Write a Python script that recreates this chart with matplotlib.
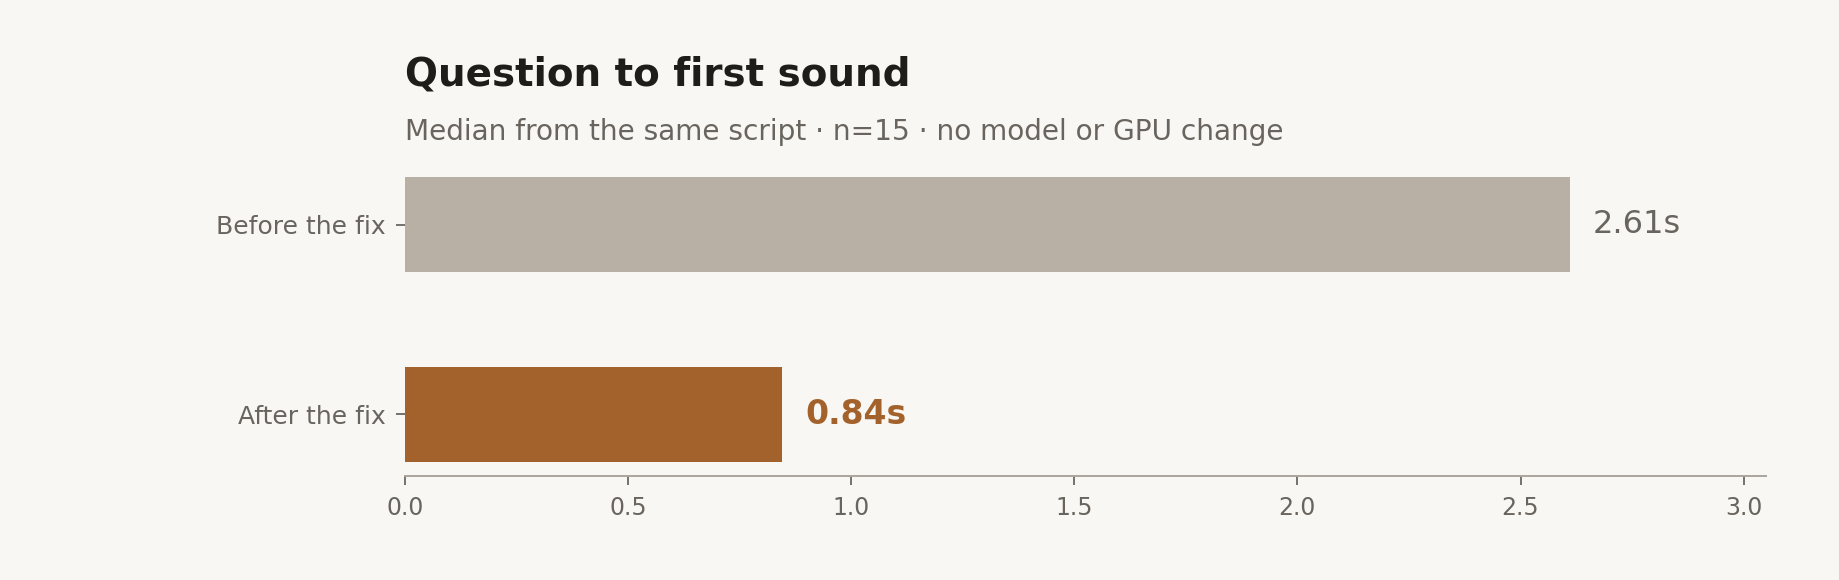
import matplotlib
matplotlib.use("Agg")
import matplotlib.pyplot as plt

plt.rcParams['font.family'] = ['DejaVu Sans']

# median time from question to first sound (seconds)
labels = ['After the fix', 'Before the fix']
seconds = [0.845, 2.61]
value_text = ['0.84s', '2.61s']

bg = '#f9f7f3'
grey_text = '#69645e'
bar_colors = ['#a3622b', '#b8afa5']
label_colors = ['#a3622b', '#69645e']
label_weights = ['bold', 'normal']
label_sizes = [11.9, 11.5]

fig = plt.figure(figsize=(9.195, 2.9), dpi=200, facecolor=bg)
ax = fig.add_axes([0.2202, 0.1793, 0.9603 - 0.2202, 0.7192 - 0.1793])
ax.set_facecolor(bg)

ax.barh(labels, seconds, height=0.5, color=bar_colors)
for i, (v, t) in enumerate(zip(seconds, value_text)):
    ax.annotate(t, (v, i), xytext=(8.3, 0), textcoords='offset points',
                va='center', ha='left', fontsize=label_sizes[i],
                color=label_colors[i], fontweight=label_weights[i])

ax.set_xlim(0, 3.05)
ax.set_xticks([0, 0.5, 1.0, 1.5, 2.0, 2.5, 3.0])
for s in ['top', 'right', 'left']:
    ax.spines[s].set_visible(False)
ax.spines['bottom'].set_color('#aaa49c')
ax.spines['bottom'].set_linewidth(0.7)
ax.tick_params(axis='x', colors='#77716b', labelcolor=grey_text, labelsize=8.5,
               length=3.3, width=0.7, pad=4)
ax.tick_params(axis='y', colors='#77716b', labelcolor=grey_text, labelsize=9,
               length=3.3, width=0.7, pad=3.5)

fig.text(0.2202, 0.852, 'Question to first sound', fontsize=14,
         fontweight='bold', color='#1f1d1a', va='baseline', ha='left')
fig.text(0.2202, 0.759, 'Median from the same script \u00b7 n=15 \u00b7 no model or GPU change',
         fontsize=10.1, color=grey_text, va='baseline', ha='left')

fig.savefig('out.png', dpi=200, facecolor=bg)
